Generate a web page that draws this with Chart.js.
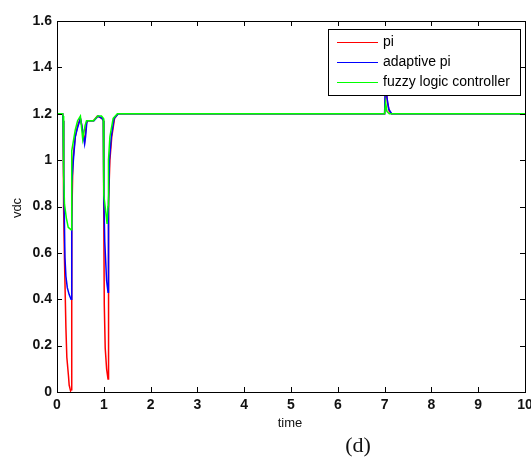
<!DOCTYPE html>
<html>
<head>
<meta charset="utf-8">
<script src="https://cdn.jsdelivr.net/npm/chart.js@4"></script>
<style>
  html, body { margin: 0; padding: 0; background: #fff; }
  #wrap { width: 531px; height: 457px; position: relative; }
</style>
</head>
<body>
<div id="wrap"><canvas id="plot"></canvas></div>
<script>
// values (time in s, vdc)
const piTime = [0, 0.12, 0.13, 0.14, 0.145, 0.16, 0.19, 0.21, 0.245, 0.26, 0.29, 0.30, 0.31, 0.32, 0.34, 0.39, 0.44, 0.5, 0.52, 0.57, 0.59, 0.63, 0.66, 0.78, 0.86, 0.96, 0.99, 1.0, 1.01, 1.03, 1.06, 1.09, 1.095, 1.10, 1.11, 1.13, 1.17, 1.23, 1.3, 7.0, 7.03, 7.06, 7.1, 7.15, 10];
const piVdc = [1.2, 1.2, 1.17, 1.15, 0.78, 0.57, 0.28, 0.15, 0.07, 0.03, 0.005, 0.01, 0.4, 0.73, 1.0, 1.1, 1.15, 1.18, 1.16, 1.1, 1.08, 1.16, 1.17, 1.17, 1.19, 1.18, 1.17, 0.75, 0.38, 0.19, 0.1, 0.056, 0.3, 0.58, 0.82, 1.0, 1.1, 1.18, 1.2, 1.2, 1.33, 1.25, 1.21, 1.2, 1.2];

const apiTime = [0, 0.12, 0.13, 0.14, 0.145, 0.17, 0.19, 0.22, 0.26, 0.30, 0.31, 0.32, 0.35, 0.39, 0.44, 0.5, 0.53, 0.59, 0.61, 0.64, 0.79, 0.88, 0.96, 0.99, 1.0, 1.02, 1.06, 1.09, 1.10, 1.12, 1.16, 1.22, 1.31, 7.0, 7.02, 7.05, 7.09, 7.15, 10];
const apiVdc = [1.2, 1.2, 1.17, 1.16, 0.94, 0.58, 0.5, 0.45, 0.42, 0.40, 0.6, 0.9, 1.0, 1.1, 1.14, 1.18, 1.15, 1.07, 1.1, 1.17, 1.17, 1.19, 1.18, 1.17, 0.85, 0.65, 0.48, 0.43, 0.8, 1.0, 1.1, 1.18, 1.2, 1.2, 1.38, 1.27, 1.22, 1.2, 1.2];

const flcTime = [0, 0.12, 0.13, 0.14, 0.145, 0.16, 0.2, 0.24, 0.3, 0.31, 0.32, 0.39, 0.44, 0.5, 0.53, 0.55, 0.6, 0.63, 0.78, 0.87, 0.95, 0.99, 1.0, 1.04, 1.07, 1.09, 1.10, 1.13, 1.2, 1.29, 7.0, 7.02, 7.05, 7.1, 10];
const flcVdc = [1.2, 1.2, 1.19, 1.18, 0.93, 0.81, 0.75, 0.71, 0.70, 0.75, 1.04, 1.13, 1.17, 1.19, 1.13, 1.09, 1.15, 1.17, 1.17, 1.19, 1.19, 1.18, 0.85, 0.78, 0.725, 0.8, 1.0, 1.1, 1.18, 1.2, 1.2, 1.25, 1.21, 1.2, 1.2];

const seriesNames = ['pi', 'adaptive pi', 'fuzzy logic controller'];
const seriesColors = ['#ff0000', '#0000ff', '#00ff00'];

function toPoints(t, v) {
  return t.map((x, i) => ({ x: x, y: v[i] }));
}

const TICK_FONT = { family: 'Liberation Sans, Arial, sans-serif', size: 14, weight: 'bold' };

// box, inward ticks on all four sides, legend and titles
const framePlugin = {
  id: 'frame',
  afterDatasetsDraw(chart) {
    const ctx = chart.ctx;
    const a = chart.chartArea;
    const xs = chart.scales.x;
    const ys = chart.scales.y;
    ctx.save();
    ctx.strokeStyle = '#000';
    ctx.lineWidth = 1;
    ctx.beginPath();
    xs.ticks.forEach(t => {
      const px = Math.round(xs.getPixelForValue(t.value)) + 0.5;
      ctx.moveTo(px, a.bottom); ctx.lineTo(px, a.bottom - 5);
      ctx.moveTo(px, a.top); ctx.lineTo(px, a.top + 5);
    });
    ys.ticks.forEach(t => {
      const py = Math.round(ys.getPixelForValue(t.value)) + 0.5;
      ctx.moveTo(a.left, py); ctx.lineTo(a.left + 5, py);
      ctx.moveTo(a.right, py); ctx.lineTo(a.right - 5, py);
    });
    ctx.stroke();
    ctx.strokeRect(Math.round(a.left) + 0.5, Math.round(a.top) + 0.5,
      Math.round(a.right - a.left), Math.round(a.bottom - a.top));

    // legend
    const lx = 328, ly = 29, lw = 192, lh = 66;
    ctx.fillStyle = '#fff';
    ctx.fillRect(lx, ly, lw, lh);
    ctx.strokeRect(lx + 0.5, ly + 0.5, lw, lh);
    ctx.font = '14px Liberation Sans, Arial, sans-serif';
    ctx.textBaseline = 'middle';
    seriesNames.forEach((name, i) => {
      const y = ly + 13 + i * 20;
      ctx.strokeStyle = seriesColors[i];
      ctx.beginPath();
      ctx.moveTo(337, y + 0.5); ctx.lineTo(378, y + 0.5);
      ctx.stroke();
      ctx.fillStyle = '#000';
      ctx.fillText(name, 383, y);
    });

    // axis titles and caption
    ctx.fillStyle = '#111';
    ctx.textAlign = 'center';
    ctx.font = '13px Liberation Sans, Arial, sans-serif';
    ctx.fillText('time', 290, 423);
    ctx.save();
    ctx.translate(17, 208);
    ctx.rotate(-Math.PI / 2);
    ctx.fillText('vdc', 0, 0);
    ctx.restore();
    ctx.font = '22px Liberation Serif, Times New Roman, serif';
    ctx.fillText('(d)', 358, 446);
    ctx.restore();
  }
};

const datasets = [
  { data: toPoints(piTime, piVdc), order: 2 },
  { data: toPoints(apiTime, apiVdc), order: 1 },
  { data: toPoints(flcTime, flcVdc), order: 0 }
].map((d, i) => Object.assign(d, {
  label: seriesNames[i],
  borderColor: seriesColors[i],
  backgroundColor: seriesColors[i],
  borderWidth: 1.5,
  showLine: true,
  pointRadius: 0,
  tension: 0
}));

new Chart(document.getElementById('plot'), {
  type: 'scatter',
  data: { datasets: datasets },
  options: {
    responsive: true,
    maintainAspectRatio: false,
    animation: false,
    layout: { padding: { top: 21, right: 6, left: 0, bottom: 0 } },
    plugins: { legend: { display: false }, tooltip: { enabled: false } },
    scales: {
      x: {
        type: 'linear', min: 0, max: 10,
        ticks: { stepSize: 1, color: '#111', font: TICK_FONT, padding: 5, maxRotation: 0 },
        grid: { display: false, drawTicks: false },
        border: { display: false },
        afterFit(s) { s.height = 65; s.paddingRight = 0; s.paddingLeft = 0; }
      },
      y: {
        type: 'linear', min: 0, max: 1.6,
        ticks: {
          stepSize: 0.2, color: '#111', font: TICK_FONT, padding: 5,
          callback: v => String(Number(v.toFixed(1)))
        },
        grid: { display: false, drawTicks: false },
        border: { display: false },
        afterFit(s) { s.width = 57; s.paddingTop = 0; s.paddingBottom = 0; }
      }
    }
  },
  plugins: [framePlugin]
});
</script>
</body>
</html>
